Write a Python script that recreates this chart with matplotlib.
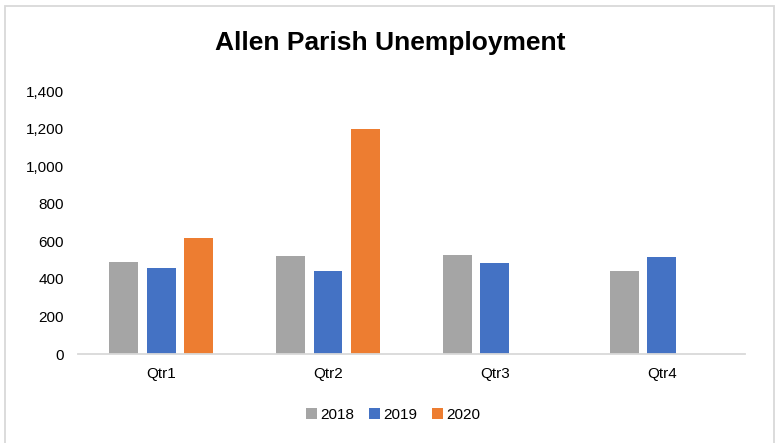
import numpy as np
import matplotlib.pyplot as plt
from matplotlib.patches import Rectangle
from matplotlib.ticker import FuncFormatter

quarters = ['Qtr1', 'Qtr2', 'Qtr3', 'Qtr4']
years = ['2018', '2019', '2020']
vals_2018 = [489, 522, 528, 444]
vals_2019 = [457, 442, 487, 517]
vals_2020 = [617, 1198, np.nan, np.nan]
colors = ['#A5A5A5', '#4472C4', '#ED7D31']

plt.rcParams['font.family'] = ['Liberation Sans', 'DejaVu Sans']

fig = plt.figure(figsize=(7.77, 4.43), dpi=100)
ax = fig.add_axes([0.1, 0.2009, 0.859, 0.5926])

x = np.arange(len(quarters))
width = 0.173
step = 0.225
for i, (vals, c, yr) in enumerate(zip([vals_2018, vals_2019, vals_2020], colors, years)):
    ax.bar(x + (i - 1) * step, vals, width, color=c, label=yr, zorder=2)

ax.set_xlim(-0.5, 3.5)
ax.set_ylim(0, 1400)
ax.set_yticks(range(0, 1401, 200))
ax.yaxis.set_major_formatter(FuncFormatter(lambda v, p: f'{int(v):,}'))
ax.set_xticks(x)
ax.set_xticklabels(quarters)
ax.tick_params(axis='both', length=0, labelsize=11, colors='#000000')
ax.tick_params(axis='x', pad=9)
ax.tick_params(axis='y', pad=10)
for s in ['top', 'right', 'left']:
    ax.spines[s].set_visible(False)
ax.spines['bottom'].set_color('#D9D9D9')
ax.spines['bottom'].set_linewidth(1.3)

fig.text(0.502, 0.902, 'Allen Parish Unemployment', ha='center', va='center',
         fontsize=19, fontweight='bold')

fig.legend(loc='center', bbox_to_anchor=(0.506, 0.063), ncol=3, frameon=False,
           fontsize=11, handlelength=0.7, handleheight=0.7, handletextpad=0.2,
           columnspacing=1.0)

# chart frame
fig.patches.append(Rectangle((5 / 777, -0.05), 769 / 777, 1 - 6 / 443 + 0.05,
                             transform=fig.transFigure, fill=False,
                             edgecolor='#D9D9D9', linewidth=1.3))

fig.savefig('out.png', dpi=100)
